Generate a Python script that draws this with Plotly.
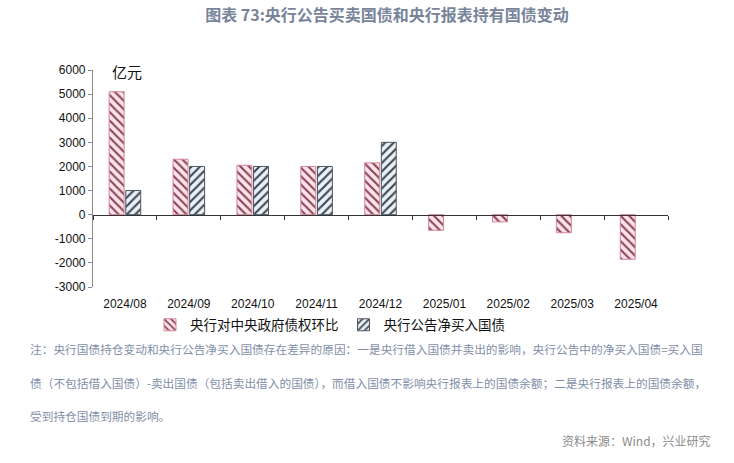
import plotly.graph_objects as go

categories = ["2024/08", "2024/09", "2024/10", "2024/11", "2024/12",
              "2025/01", "2025/02", "2025/03", "2025/04"]
claims_mom = [5100, 2300, 2050, 2000, 2150, -650, -300, -750, -1850]
net_purchase = [1000, 2000, 2000, 2000, 3000, None, None, None, None]
series_names = ["央行对中央政府债权环比", "央行公告净买入国债"]
y_ticks = [-3000, -2000, -1000, 0, 1000, 2000, 3000, 4000, 5000, 6000]
y_tick_text = ["-3000", "-2000", "-1000", "0", "1000", "2000", "3000", "4000", "5000", "6000"]

W, H = 734, 463
L, R, T, B = 93, 66, 70, 176
PW, PH = W - L - R, H - T - B

def px_x(x):
    return (x - L) / PW

def px_y(y):
    return (H - B - y) / PH

CJK = "Noto Sans CJK SC"
NUM = "Liberation Sans"

fig = go.Figure()
fig.add_trace(go.Bar(
    x=categories, y=claims_mom, name=series_names[0],
    marker=dict(color="#fde4ea",
                line=dict(color="#cf8796", width=1),
                pattern=dict(shape="\\", fgcolor="#8a4456", bgcolor="#fde4ea",
                             size=6, solidity=0.36, fillmode="replace")),
))
fig.add_trace(go.Bar(
    x=categories, y=net_purchase, name=series_names[1],
    marker=dict(color="#e9f1f8",
                line=dict(color="#4e5560", width=1),
                pattern=dict(shape="/", fgcolor="#3f4650", bgcolor="#e9f1f8",
                             size=6, solidity=0.36, fillmode="replace")),
))
# helper trace carrying the zero-line category axis
fig.add_trace(go.Scatter(
    x=categories, y=[0] * len(categories), xaxis="x2", mode="lines",
    line=dict(width=0, color="rgba(0,0,0,0)"), hoverinfo="skip",
    showlegend=False,
))

fig.update_layout(
    width=W, height=H,
    margin=dict(l=L, r=R, t=T, b=B, autoexpand=False),
    paper_bgcolor="white", plot_bgcolor="white",
    barmode="group", bargap=0.48, bargroupgap=0.1,
    showlegend=True,
    title=dict(text="图表 73:央行公告买卖国债和央行报表持有国债变动",
               xref="container", yref="container",
               x=387 / W, y=1 - 15 / H, xanchor="center", yanchor="middle",
               font=dict(family=CJK, size=16, color="#78849a", weight="bold")),
    xaxis=dict(type="category", categoryarray=categories, categoryorder="array",
               range=[-0.5, len(categories) - 0.5],
               showline=False, showgrid=False, zeroline=False,
               ticks="outside", ticklen=6, tickcolor="rgba(0,0,0,0)",
               tickfont=dict(family=NUM, size=12, color="#111111")),
    xaxis2=dict(type="category", categoryarray=categories, categoryorder="array",
                range=[-0.5, len(categories) - 0.5],
                overlaying="x", anchor="free", position=1 / 3, side="bottom",
                showline=True, linecolor="#333333", linewidth=1.2,
                ticks="outside", tickson="boundaries", ticklen=4,
                tickcolor="#333333", showticklabels=False,
                showgrid=False, zeroline=False),
    yaxis=dict(range=[-3000, 6000], tickvals=y_ticks, ticktext=y_tick_text,
               showline=True, linecolor="#8a8a8a", linewidth=1.2,
               ticks="outside", ticklen=4, tickcolor="#8a8a8a",
               showgrid=False, zeroline=False,
               tickfont=dict(family=NUM, size=12, color="#111111")),
    legend=dict(orientation="h", x=px_x(150), y=px_y(325),
                xanchor="left", yanchor="middle",
                font=dict(family=CJK, size=13.5, color="#111111"),
                itemwidth=30, tracegroupgap=0, bgcolor="rgba(0,0,0,0)"),
)

fig.add_annotation(text="亿元", xref="paper", yref="paper",
                   x=px_x(110), y=px_y(71), xanchor="left", yanchor="middle",
                   showarrow=False, font=dict(family=CJK, size=15, color="#111111"))

notes = [
    "注：央行国债持仓变动和央行公告净买入国债存在差异的原因：一是央行借入国债并卖出的影响，央行公告中的净买入国债=买入国",
    "债（不包括借入国债）-卖出国债（包括卖出借入的国债），而借入国债不影响央行报表上的国债余额；二是央行报表上的国债余额，",
    "受到持仓国债到期的影响。",
]
note_y = [348, 382, 415]
for txt, yy in zip(notes, note_y):
    fig.add_annotation(text=txt, xref="paper", yref="paper",
                       x=px_x(28), y=px_y(yy), xanchor="left", yanchor="middle",
                       showarrow=False,
                       font=dict(family=CJK, size=11.7, color="#7f8ea8"))

fig.add_annotation(text="资料来源：Wind，兴业研究", xref="paper", yref="paper",
                   x=px_x(713), y=px_y(440), xanchor="right", yanchor="middle",
                   showarrow=False, font=dict(family=CJK, size=12, color="#8c8c8c"))

fig.write_html("out.html", config={"displayModeBar": False},
               post_script="document.body.style.margin='0';document.body.style.overflow='hidden';")
